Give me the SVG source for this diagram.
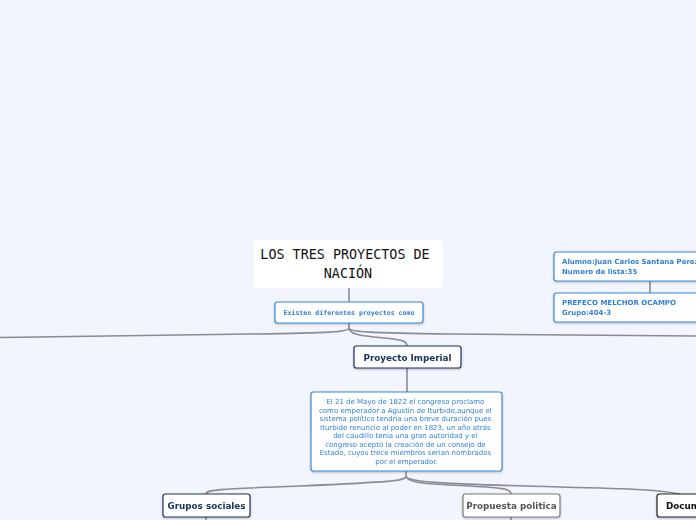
<svg xmlns="http://www.w3.org/2000/svg" width="696" height="520" viewBox="0 0 696 520">
<defs>
<style>
.bg{fill:#f2f5fd}
.con{fill:none;stroke:#8a8b93;stroke-width:1.6}
.title{fill:#fff;stroke:none}
.blue{fill:#fff;stroke:#3b88dc;stroke-width:1.2}
.navy{fill:#fff;stroke:#1e3560;stroke-width:1.2}
.gray{fill:#fff;stroke:#7a7a7a;stroke-width:1.2}
.black{fill:#fff;stroke:#222;stroke-width:1.2}
.tt{font-family:"DejaVu Sans Mono","Liberation Mono",monospace;font-size:13.4px;fill:#111}
.mono{font-family:"DejaVu Sans Mono","Liberation Mono",monospace;font-size:6.6px;font-weight:bold;fill:#2f7fd9}
.body{font-family:"DejaVu Sans","Liberation Sans",sans-serif;font-size:7px;fill:#2f7fd9}
.bb{font-family:"DejaVu Sans","Liberation Sans",sans-serif;font-size:7px;font-weight:bold;fill:#2f7fd9}
.lab{font-family:"DejaVu Sans","Liberation Sans",sans-serif;font-size:8.8px;font-weight:bold}
</style>
<filter id="sh" x="-10%" y="-20%" width="120%" height="150%">
<feDropShadow dx="0" dy="1" stdDeviation="0.8" flood-color="#000" flood-opacity="0.25"/>
</filter>
</defs>
<rect class="bg" x="0" y="0" width="696" height="520"/>
<g id="connectors">
<path class="con" d="M349,288 L349,302"/>
<path class="con" d="M349,323 L349,328 C349,332 330,333 250,334 L0,337.5"/>
<path class="con" d="M349,328 C349,332 370,333 450,334 L696,336"/>
<path class="con" d="M349,328 C349,334 360,336 385,338 C403,340 407,341 407,346"/>
<path class="con" d="M407,368 L407,392"/>
<path class="con" d="M650,281 L650,293"/>
<path class="con" d="M406,471 L406,476 C406,481 390,482 300,486 C215,489 206,490 206,494"/>
<path class="con" d="M406,476 C406,482 420,484 470,486 C505,488 511,489 511,494"/>
<path class="con" d="M406,476 C406,482 440,484 560,487 C640,489 660,490 680,494"/>
<path class="con" d="M206,517 L206,520"/>
<path class="con" d="M511,517 L511,520"/>
</g>
<g id="title">
<rect class="title" x="254" y="240" width="189" height="48" rx="4"/>
<text class="tt" x="345" y="259" text-anchor="middle">LOS TRES PROYECTOS DE</text>
<text class="tt" x="348" y="278" text-anchor="middle">NACIÓN</text>
</g>
<g id="existen" filter="url(#sh)">
<rect class="blue" x="275" y="302" width="148" height="21" rx="2.5"/>
<text class="mono" x="349" y="315" text-anchor="middle">Existen diferentes proyectos como</text>
</g>
<g id="alumno" filter="url(#sh)">
<rect class="blue" x="554" y="252" width="150" height="29" rx="2.5"/>
<text class="bb" x="562" y="264">Alumno:Juan Carlos Santana Perez</text>
<text class="bb" x="562" y="273.5">Numero de lista:35</text>
</g>
<g id="prefeco" filter="url(#sh)">
<rect class="blue" x="554" y="293" width="150" height="29" rx="2.5"/>
<text class="bb" x="562" y="305">PREFECO MELCHOR OCAMPO</text>
<text class="bb" x="562" y="315">Grupo:404-3</text>
</g>
<g id="imperial" filter="url(#sh)">
<rect class="navy" x="354" y="346" width="107" height="22" rx="2.5"/>
<text class="lab" x="407.5" y="360.5" text-anchor="middle" fill="#1e3560">Proyecto Imperial</text>
</g>
<g id="texto" filter="url(#sh)">
<rect class="blue" x="311" y="392" width="191" height="79" rx="2.5"/>
<text class="body" text-anchor="middle">
<tspan x="406.5" y="404">El 21 de Mayo de 1822 el congreso proclamo</tspan>
<tspan x="406.5" y="412.5">como emperador a Agustín de Iturbide,aunque el</tspan>
<tspan x="406.5" y="421">sistema político tendría una breve duración pues</tspan>
<tspan x="406.5" y="429.5">Iturbide renuncio al poder en 1823, un año atrás</tspan>
<tspan x="406.5" y="438">del caudillo tenia una gran autoridad y el</tspan>
<tspan x="406.5" y="446.5">congreso acepto la creación de un consejo de</tspan>
<tspan x="406.5" y="455">Estado, cuyos trece miembros serian nombrados</tspan>
<tspan x="406.5" y="463.5">por el emperador.</tspan>
</text>
</g>
<g id="grupos" filter="url(#sh)">
<rect class="navy" x="163" y="494" width="87" height="23" rx="2.5"/>
<text class="lab" x="206.5" y="509" text-anchor="middle" fill="#1e3560">Grupos sociales</text>
</g>
<g id="propuesta" filter="url(#sh)">
<rect class="gray" x="463" y="494" width="97" height="23" rx="2.5"/>
<text class="lab" x="511.5" y="509" text-anchor="middle" fill="#555">Propuesta politica</text>
</g>
<g id="documentos" filter="url(#sh)">
<rect class="black" x="657" y="494" width="60" height="23" rx="2.5"/>
<text class="lab" x="666" y="509" fill="#111">Docum</text>
</g>
</svg>
